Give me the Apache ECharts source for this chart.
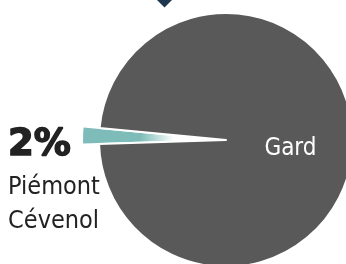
<!DOCTYPE html>
<html>
<head>
<meta charset="utf-8">
<script src="https://cdn.jsdelivr.net/npm/echarts@6/dist/echarts.min.js"></script>
<style>
  html, body { margin: 0; padding: 0; background: #fff; }
  #chart { width: 346px; height: 264px; }
</style>
</head>
<body>
<div id="chart"></div>
<script>
// values
const names = ['Piémont Cévenol', 'Gard'];
const shares = [2, 98];
const colors = ['#7dbcb8', '#595959'];

const narrow = 'DejaVu Sans Condensed, Liberation Sans Narrow, sans-serif';

const chart = echarts.init(document.getElementById('chart'), null, { renderer: 'canvas' });

const teal = {
  type: 'linear', x: 0, y: 0, x2: 1, y2: 0,
  colorStops: [
    { offset: 0, color: colors[0] },
    { offset: 0.45, color: colors[0] },
    { offset: 0.72, color: '#ffffff' },
    { offset: 1, color: '#ffffff' }
  ]
};

const data = names.map((name, i) => {
  if (i === 0) {
    return {
      name, value: shares[i], selected: true,
      itemStyle: { color: teal, borderWidth: 0 },
      label: {
        position: 'outside',
        align: 'left',
        formatter: p => '{pct|' + p.value + '%}\n' + p.name.split(' ').map(w => '{name|' + w + '}').join('\n'),
        rich: {
          pct: {
            fontFamily: 'DejaVu Sans', fontWeight: 900, fontSize: 37, color: '#222',
            textBorderColor: '#222', textBorderWidth: 1.5, lineHeight: 50, align: 'left'
          },
          name: { fontFamily: narrow, fontSize: 25, color: '#222', lineHeight: 34, align: 'left' }
        }
      },
      labelLine: { show: false }
    };
  }
  return {
    name, value: shares[i],
    itemStyle: { color: colors[i], borderColor: '#fff', borderWidth: 2 },
    label: {
      position: 'inside',
      formatter: '{b}',
      color: '#fff',
      fontFamily: narrow,
      fontSize: 24
    }
  };
});

chart.setOption({
  animation: false,
  graphic: [{
    type: 'polygon',
    shape: { points: [[157, 0], [172, 0], [164.5, 7.5]] },
    style: { fill: '#1e3650' }
  }],
  series: [{
    type: 'pie',
    center: [226, 140],
    radius: 127,
    startAngle: 181.8,
    clockwise: true,
    selectedMode: 'single',
    selectedOffset: 16,
    avoidLabelOverlap: false,
    emphasis: { disabled: true },
    labelLayout: params => {
      if (params.dataIndex === 0) {
        return { dx: -25, dy: -15, align: 'left', verticalAlign: 'top' };
      }
      return { dx: -2, dy: 7 };
    },
    data
  }]
});
</script>
</body>
</html>
